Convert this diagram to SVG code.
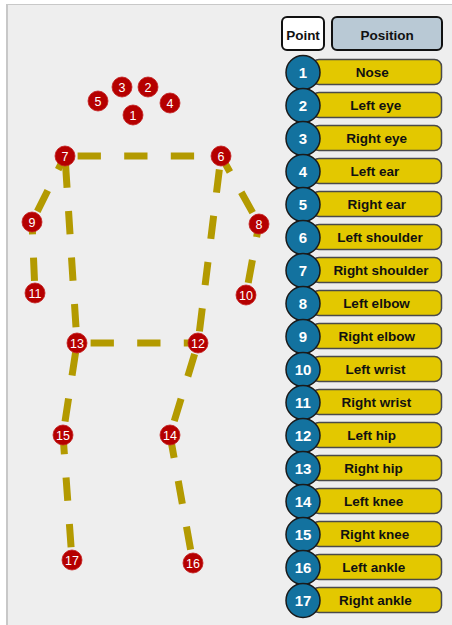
<svg xmlns="http://www.w3.org/2000/svg" width="452" height="625" viewBox="0 0 452 625">
<style>
.bone{stroke:#b39a00;stroke-width:7;stroke-dasharray:23.3 23.3;fill:none}
.kp circle{fill:#b50000;stroke:#c42020;stroke-width:0.8}
.kp text{font-family:"Liberation Sans",Arial,sans-serif;font-size:12.5px;fill:#ffffff;text-anchor:middle}
.hdr{stroke:#111;stroke-width:2}
.htxt{font-family:"Liberation Sans",Arial,sans-serif;font-size:13.5px;font-weight:bold;fill:#111;text-anchor:middle}
.bar{fill:#e3c800;stroke:#4a4a4a;stroke-width:1.5}
.num{fill:#13729f;stroke:#1a1a1a;stroke-width:1.5}
.ntxt{font-family:"Liberation Sans",Arial,sans-serif;font-size:15px;font-weight:bold;fill:#ffffff;text-anchor:middle}
.ltxt{font-family:"Liberation Sans",Arial,sans-serif;font-size:13.5px;font-weight:bold;fill:#111;text-anchor:middle}
</style>
<rect x="0" y="0" width="452" height="625" fill="#ffffff"/>
<rect x="8" y="5" width="444" height="620" fill="#eeeeee"/>
<line x1="7" y1="4" x2="7" y2="625" stroke="#c8c8c8" stroke-width="2"/>
<line x1="7" y1="4.5" x2="452" y2="4.5" stroke="#c8c8c8" stroke-width="1"/>

<g id="connectors">
<line class="bone" x1="65" y1="156" x2="221" y2="156" stroke-dashoffset="34"/>
<line class="bone" x1="65" y1="156" x2="77" y2="343" stroke-dashoffset="38"/>
<line class="bone" x1="65" y1="156" x2="32" y2="222" stroke-dashoffset="8"/>
<line class="bone" x1="32" y1="222" x2="35" y2="293" stroke-dashoffset="11"/>
<line class="bone" x1="221" y1="156" x2="259" y2="224" stroke-dashoffset="5"/>
<line class="bone" x1="259" y1="224" x2="246" y2="295" stroke-dashoffset="10"/>
<line class="bone" x1="221" y1="156" x2="198" y2="343" stroke-dashoffset="33"/>
<line class="bone" x1="77" y1="343" x2="198" y2="343" stroke-dashoffset="33"/>
<line class="bone" x1="77" y1="343" x2="63" y2="435" stroke-dashoffset="37"/>
<line class="bone" x1="63" y1="435" x2="72" y2="560" stroke-dashoffset="4"/>
<line class="bone" x1="198" y1="343" x2="170" y2="435" stroke-dashoffset="35"/>
<line class="bone" x1="170" y1="435" x2="193" y2="563" stroke-dashoffset="0"/>
</g>

<g id="kp1" class="kp"><circle cx="133" cy="115" r="10"/><text x="133" y="119.5">1</text></g>
<g id="kp2" class="kp"><circle cx="148" cy="87" r="10"/><text x="148" y="91.5">2</text></g>
<g id="kp3" class="kp"><circle cx="122" cy="87" r="10"/><text x="122" y="91.5">3</text></g>
<g id="kp4" class="kp"><circle cx="170" cy="103" r="10"/><text x="170" y="107.5">4</text></g>
<g id="kp5" class="kp"><circle cx="98" cy="101" r="10"/><text x="98" y="105.5">5</text></g>
<g id="kp6" class="kp"><circle cx="221" cy="156" r="10"/><text x="221" y="160.5">6</text></g>
<g id="kp7" class="kp"><circle cx="65" cy="156" r="10"/><text x="65" y="160.5">7</text></g>
<g id="kp8" class="kp"><circle cx="259" cy="224" r="10"/><text x="259" y="228.5">8</text></g>
<g id="kp9" class="kp"><circle cx="32" cy="222" r="10"/><text x="32" y="226.5">9</text></g>
<g id="kp10" class="kp"><circle cx="246" cy="295" r="10"/><text x="246" y="299.5">10</text></g>
<g id="kp11" class="kp"><circle cx="35" cy="293" r="10"/><text x="35" y="297.5">11</text></g>
<g id="kp12" class="kp"><circle cx="198" cy="343" r="10"/><text x="198" y="347.5">12</text></g>
<g id="kp13" class="kp"><circle cx="77" cy="343" r="10"/><text x="77" y="347.5">13</text></g>
<g id="kp14" class="kp"><circle cx="170" cy="435" r="10"/><text x="170" y="439.5">14</text></g>
<g id="kp15" class="kp"><circle cx="63" cy="435" r="10"/><text x="63" y="439.5">15</text></g>
<g id="kp16" class="kp"><circle cx="193" cy="563" r="10"/><text x="193" y="567.5">16</text></g>
<g id="kp17" class="kp"><circle cx="72" cy="560" r="10"/><text x="72" y="564.5">17</text></g>

<g id="header-point"><rect class="hdr" x="282" y="17" width="42" height="33" rx="5" fill="#ffffff"/><text class="htxt" x="303" y="39.5">Point</text></g>
<g id="header-position"><rect class="hdr" x="332" y="17" width="110" height="33" rx="5" fill="#b9c9d5"/><text class="htxt" x="387" y="39.5">Position</text></g>

<g id="row1"><rect class="bar" x="312" y="59.5" width="129.5" height="25" rx="7"/><circle class="num" cx="303" cy="72.5" r="17"/><text class="ntxt" x="303" y="77.8">1</text><text class="ltxt" x="372.3" y="77">Nose</text></g>
<g id="row2"><rect class="bar" x="312" y="92.5" width="129.5" height="25" rx="7"/><circle class="num" cx="303" cy="105.5" r="17"/><text class="ntxt" x="303" y="110.8">2</text><text class="ltxt" x="375.7" y="110">Left eye</text></g>
<g id="row3"><rect class="bar" x="312" y="125.5" width="129.5" height="25" rx="7"/><circle class="num" cx="303" cy="138.5" r="17"/><text class="ntxt" x="303" y="143.8">3</text><text class="ltxt" x="376.7" y="143">Right eye</text></g>
<g id="row4"><rect class="bar" x="312" y="158.5" width="129.5" height="25" rx="7"/><circle class="num" cx="303" cy="171.5" r="17"/><text class="ntxt" x="303" y="176.8">4</text><text class="ltxt" x="374.8" y="176">Left ear</text></g>
<g id="row5"><rect class="bar" x="312" y="191.5" width="129.5" height="25" rx="7"/><circle class="num" cx="303" cy="204.5" r="17"/><text class="ntxt" x="303" y="209.8">5</text><text class="ltxt" x="376.7" y="209">Right ear</text></g>
<g id="row6"><rect class="bar" x="312" y="224.5" width="129.5" height="25" rx="7"/><circle class="num" cx="303" cy="237.5" r="17"/><text class="ntxt" x="303" y="242.8">6</text><text class="ltxt" x="380" y="242">Left shoulder</text></g>
<g id="row7"><rect class="bar" x="312" y="257.5" width="129.5" height="25" rx="7"/><circle class="num" cx="303" cy="270.5" r="17"/><text class="ntxt" x="303" y="275.8">7</text><text class="ltxt" x="381" y="275">Right shoulder</text></g>
<g id="row8"><rect class="bar" x="312" y="290.5" width="129.5" height="25" rx="7"/><circle class="num" cx="303" cy="303.5" r="17"/><text class="ntxt" x="303" y="308.8">8</text><text class="ltxt" x="376.5" y="308">Left elbow</text></g>
<g id="row9"><rect class="bar" x="312" y="323.5" width="129.5" height="25" rx="7"/><circle class="num" cx="303" cy="336.5" r="17"/><text class="ntxt" x="303" y="341.8">9</text><text class="ltxt" x="376.8" y="341">Right elbow</text></g>
<g id="row10"><rect class="bar" x="312" y="356.5" width="129.5" height="25" rx="7"/><circle class="num" cx="303" cy="369.5" r="17"/><text class="ntxt" x="303" y="374.8">10</text><text class="ltxt" x="375.5" y="374">Left wrist</text></g>
<g id="row11"><rect class="bar" x="312" y="389.5" width="129.5" height="25" rx="7"/><circle class="num" cx="303" cy="402.5" r="17"/><text class="ntxt" x="303" y="407.8">11</text><text class="ltxt" x="376.3" y="407">Right wrist</text></g>
<g id="row12"><rect class="bar" x="312" y="422.5" width="129.5" height="25" rx="7"/><circle class="num" cx="303" cy="435.5" r="17"/><text class="ntxt" x="303" y="440.8">12</text><text class="ltxt" x="371.7" y="440">Left hip</text></g>
<g id="row13"><rect class="bar" x="312" y="455.5" width="129.5" height="25" rx="7"/><circle class="num" cx="303" cy="468.5" r="17"/><text class="ntxt" x="303" y="473.8">13</text><text class="ltxt" x="373.5" y="473">Right hip</text></g>
<g id="row14"><rect class="bar" x="312" y="488.5" width="129.5" height="25" rx="7"/><circle class="num" cx="303" cy="501.5" r="17"/><text class="ntxt" x="303" y="506.8">14</text><text class="ltxt" x="373.7" y="506">Left knee</text></g>
<g id="row15"><rect class="bar" x="312" y="521.5" width="129.5" height="25" rx="7"/><circle class="num" cx="303" cy="534.5" r="17"/><text class="ntxt" x="303" y="539.8">15</text><text class="ltxt" x="374.8" y="539">Right knee</text></g>
<g id="row16"><rect class="bar" x="312" y="554.5" width="129.5" height="25" rx="7"/><circle class="num" cx="303" cy="567.5" r="17"/><text class="ntxt" x="303" y="572.8">16</text><text class="ltxt" x="373.8" y="572">Left ankle</text></g>
<g id="row17"><rect class="bar" x="312" y="587.5" width="129.5" height="25" rx="7"/><circle class="num" cx="303" cy="600.5" r="17"/><text class="ntxt" x="303" y="605.8">17</text><text class="ltxt" x="375.5" y="605">Right ankle</text></g>
</svg>
